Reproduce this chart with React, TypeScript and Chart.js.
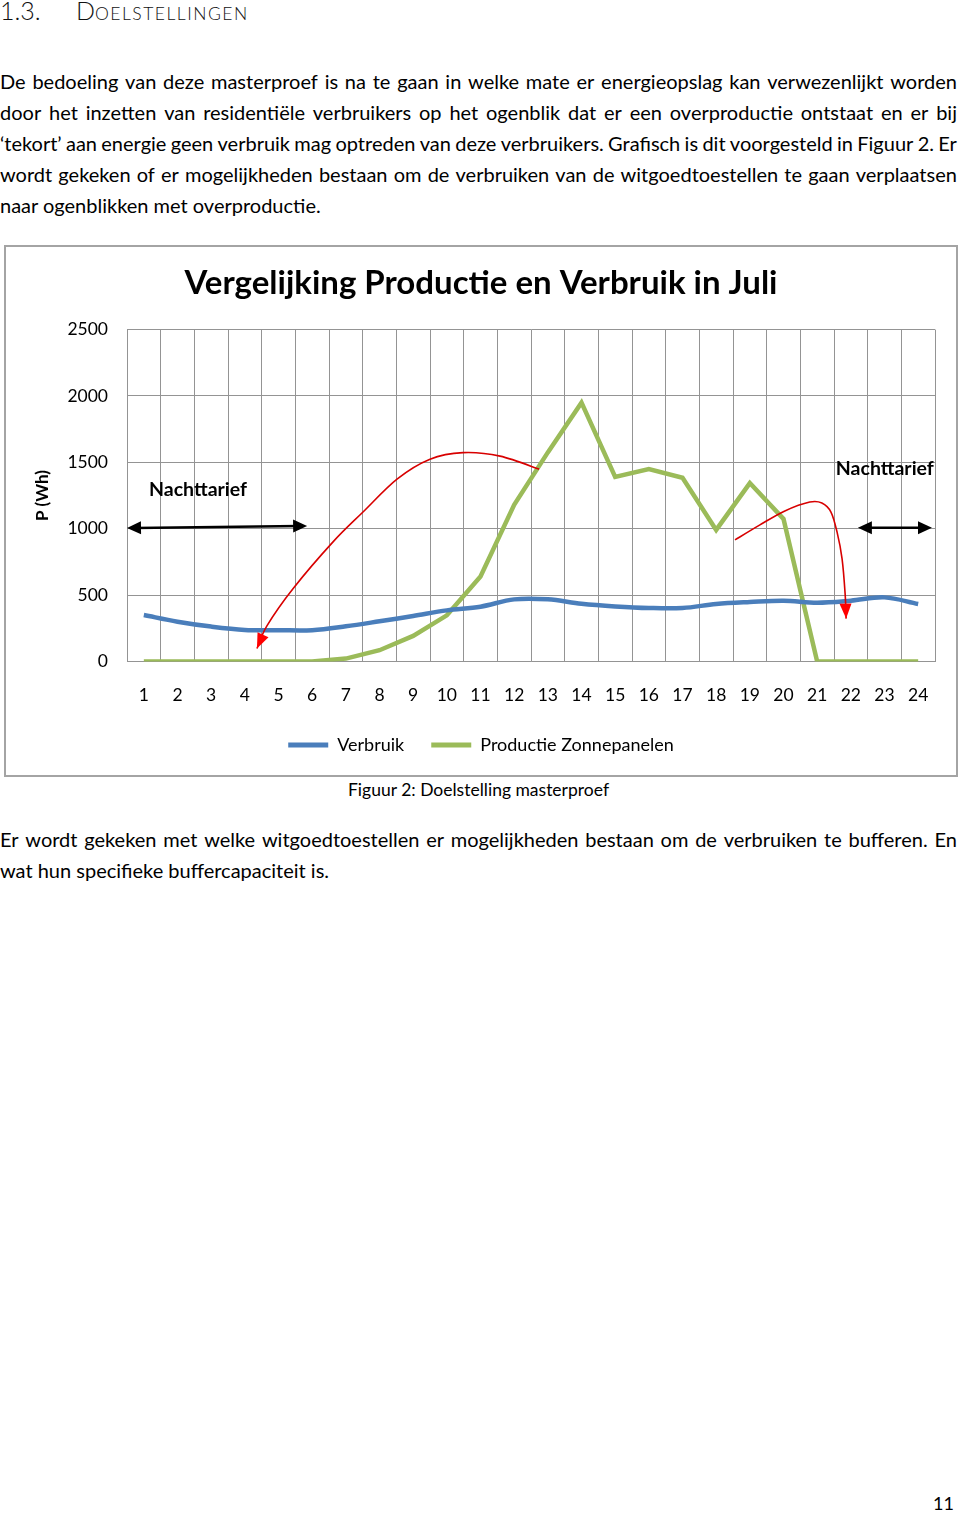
import React, { useEffect, useRef } from "react";
import { Chart, registerables } from "chart.js";

Chart.register(...registerables);

// ---- chart data ----
const hours = ["1", "2", "3", "4", "5", "6", "7", "8", "9", "10", "11", "12", "13", "14", "15", "16", "17", "18", "19", "20", "21", "22", "23", "24"];
const verbruik = [350, 300, 263, 238, 236, 236, 265, 303, 343, 385, 413, 468, 468, 435, 415, 403, 403, 433, 448, 458, 443, 458, 483, 433];
const productie = [0, 0, 0, 0, 0, 0, 22, 85, 193, 348, 640, 1180, 1575, 1950, 1391, 1449, 1384, 991, 1344, 1074, 0, 0, 0, 0];
const yTicks = [0, 500, 1000, 1500, 2000, 2500];

// ---- annotation coordinates in data space: [category index (0 = hour 1), Wh] ----
const shiftArrowDay = [[11.74, 1449], [10.58, 1547], [9.48, 1573], [8.5, 1524], [7.52, 1374], [6.51, 1126], [5.62, 901], [4.43, 548], [3.66, 270], [3.36, 98]];
const shiftArrowEvening = [[17.56, 916], [18.3, 1029], [19.04, 1134], [19.78, 1201], [20.14, 1194], [20.41, 1126], [20.59, 976], [20.74, 773], [20.83, 511], [20.86, 323]];
const nightArrowLeft = [[-0.5, 1006], [4.85, 1021]];
const nightArrowRight = [[21.21, 1008], [23.41, 1008]];
const nightLabels = [
  { text: "Nachttarief", at: [1.61, 1291] },
  { text: "Nachttarief", at: [22.01, 1449] },
];

// ---- page text ----
const para1 = [
  "De bedoeling van deze masterproef is na te gaan in welke mate er energieopslag kan verwezenlijkt worden",
  "door het inzetten van residentiële verbruikers op het ogenblik dat er een overproductie ontstaat en er bij",
  "‘tekort’ aan energie geen verbruik mag optreden van deze verbruikers. Grafisch is dit voorgesteld in Figuur 2. Er",
  "wordt gekeken of er mogelijkheden bestaan om de verbruiken van de witgoedtoestellen te gaan verplaatsen",
  "naar ogenblikken met overproductie.",
];
const para2 = [
  "Er wordt gekeken met welke witgoedtoestellen er mogelijkheden bestaan om de verbruiken te bufferen. En",
  "wat hun specifieke buffercapaciteit is.",
];

const FONT = "Lato";

function arrowHead(ctx: CanvasRenderingContext2D, from: number[], to: number[], len: number, half: number, color: string) {
  const a = Math.atan2(to[1] - from[1], to[0] - from[0]);
  ctx.save();
  ctx.fillStyle = color;
  ctx.beginPath();
  ctx.moveTo(to[0], to[1]);
  ctx.lineTo(to[0] - len * Math.cos(a) + half * Math.sin(a), to[1] - len * Math.sin(a) - half * Math.cos(a));
  ctx.lineTo(to[0] - len * Math.cos(a) - half * Math.sin(a), to[1] - len * Math.sin(a) + half * Math.cos(a));
  ctx.closePath();
  ctx.fill();
  ctx.restore();
}

const annotationPlugin = {
  id: "pageAnnotations",
  afterDatasetsDraw(chart: any) {
    const { ctx, scales } = chart;
    const xs = scales.x;
    const ys = scales.y;
    const px = (p: number[]) => [xs.getPixelForValue(p[0]), ys.getPixelForValue(p[1])];
    ctx.save();
    // red curved arrows
    for (const pts of [shiftArrowDay, shiftArrowEvening]) {
      const P = pts.map(px);
      ctx.strokeStyle = "#d80000";
      ctx.lineWidth = 1.6;
      ctx.beginPath();
      ctx.moveTo(P[0][0], P[0][1]);
      for (let i = 0; i < P.length - 1; i++) {
        const p0 = P[Math.max(i - 1, 0)];
        const p1 = P[i];
        const p2 = P[i + 1];
        const p3 = P[Math.min(i + 2, P.length - 1)];
        ctx.bezierCurveTo(
          p1[0] + (p2[0] - p0[0]) / 6, p1[1] + (p2[1] - p0[1]) / 6,
          p2[0] - (p3[0] - p1[0]) / 6, p2[1] - (p3[1] - p1[1]) / 6,
          p2[0], p2[1]
        );
      }
      ctx.stroke();
      arrowHead(ctx, P[P.length - 2], P[P.length - 1], 15, 6, "#ff0000");
    }
    // black double arrows
    for (const pts of [nightArrowLeft, nightArrowRight]) {
      const [a, b] = pts.map(px);
      ctx.strokeStyle = "#000";
      ctx.lineWidth = 2.5;
      ctx.beginPath();
      ctx.moveTo(a[0] + 8, a[1]);
      ctx.lineTo(b[0] - 8, b[1]);
      ctx.stroke();
      arrowHead(ctx, a, b, 14, 6.5, "#000");
      arrowHead(ctx, b, a, 14, 6.5, "#000");
    }
    // labels
    ctx.fillStyle = "#000";
    ctx.font = `bold 19.5px ${FONT}`;
    ctx.textAlign = "center";
    ctx.textBaseline = "middle";
    for (const l of nightLabels) {
      const p = px(l.at);
      ctx.fillText(l.text, p[0], p[1]);
    }
    ctx.restore();
  },
};

function JustifiedLine({ text }: { text: string }) {
  const words = text.split(" ");
  return (
    <div style={{ display: "flex", justifyContent: "space-between", width: 957, whiteSpace: "pre" }}>
      {words.map((w, i) => (
        <span key={i}>{w}</span>
      ))}
    </div>
  );
}

function Paragraph({ lines, top }: { lines: string[]; top: number }) {
  return (
    <div style={{ position: "absolute", left: 0, top, fontSize: 20, lineHeight: "31px", width: 957 }}>
      {lines.map((l, i) =>
        i < lines.length - 1 ? <JustifiedLine key={i} text={l} /> : <div key={i}>{l}</div>
      )}
    </div>
  );
}

export default function App() {
  const ref = useRef<HTMLCanvasElement>(null);

  useEffect(() => {
    if (!ref.current) return;
    Chart.defaults.font.family = FONT;
    Chart.defaults.color = "#000";
    const gridColor = "#949494";
    const chart = new Chart(ref.current, {
      type: "line",
      data: {
        labels: hours,
        datasets: [
          {
            label: "Verbruik",
            data: verbruik,
            borderColor: "#4a7ebb",
            backgroundColor: "#4a7ebb",
            borderWidth: 4.5,
            pointRadius: 0,
            tension: 0.35,
          },
          {
            label: "Productie Zonnepanelen",
            data: productie,
            borderColor: "#9bbb59",
            backgroundColor: "#9bbb59",
            borderWidth: 4.5,
            pointRadius: 0,
            tension: 0,
          },
        ],
      },
      options: {
        animation: false,
        responsive: false,
        devicePixelRatio: 1,
        layout: { padding: { left: 0, right: 0, top: 0, bottom: 11 } },
        plugins: {
          title: {
            display: true,
            text: "Vergelijking Productie en Verbruik in Juli",
            color: "#000",
            font: { family: FONT, size: 33, weight: "bold" },
            padding: { top: 17, bottom: 26 },
          },
          legend: {
            position: "bottom",
            labels: {
              boxWidth: 40,
              boxHeight: 5,
              padding: 27,
              color: "#000",
              font: { size: 18 },
              generateLabels: (c: any) => {
                const items = (Chart.defaults.plugins.legend.labels as any).generateLabels(c);
                return items.map((it: any) => ({ ...it, lineWidth: 0, fillStyle: it.strokeStyle }));
              },
            },
          },
          tooltip: { enabled: false },
        },
        scales: {
          x: {
            offset: true,
            grid: { offset: true, color: gridColor, lineWidth: 1, drawTicks: false },
            border: { color: gridColor },
            ticks: { padding: 23, font: { size: 17.5 }, color: "#000", autoSkip: false, maxRotation: 0 },
            afterFit: (s: any) => {
              s.height = 47.5;
            },
          },
          y: {
            min: 0,
            max: 2500,
            afterBuildTicks: (s: any) => {
              s.ticks = yTicks.map((v) => ({ value: v }));
            },
            grid: { color: gridColor, lineWidth: 1, drawTicks: false },
            border: { color: gridColor },
            ticks: { padding: 19, font: { size: 17.5 }, color: "#000", callback: (v: any) => String(v) },
            title: {
              display: true,
              text: "P (Wh)",
              color: "#000",
              font: { size: 17, weight: "bold" },
              padding: { top: 26, bottom: 0 },
            },
            afterFit: (s: any) => {
              s.width = 121;
            },
          },
          yRight: {
            type: "linear",
            position: "right",
            display: true,
            grid: { display: false },
            border: { display: false },
            ticks: { display: false },
            afterFit: (s: any) => {
              s.width = 21;
            },
          },
        },
      } as any,
      plugins: [annotationPlugin],
    });
    return () => chart.destroy();
  }, []);

  return (
    <div style={{ position: "absolute", left: 0, top: 0, width: 960, height: 1515, fontFamily: FONT, color: "#000", background: "#fff" }}>
      <div style={{ position: "absolute", left: 0, top: -5, fontSize: 25, lineHeight: "30px", fontWeight: 300, color: "#111", whiteSpace: "nowrap" }}>
        1.3.
        <span style={{ position: "absolute", left: 76 }}>
          D<span style={{ fontSize: 17.5, letterSpacing: 1.5 }}>OELSTELLINGEN</span>
        </span>
      </div>
      <Paragraph lines={para1} top={66} />
      <div style={{ position: "absolute", left: 4, top: 245, width: 950, height: 528, border: "2px solid #a4a4a4" }}>
        <canvas ref={ref} width={950} height={528} style={{ display: "block" }} />
      </div>
      <div style={{ position: "absolute", left: 0, top: 780, width: 957, textAlign: "center", fontSize: 17.5, lineHeight: "20px" }}>
        Figuur 2: Doelstelling masterproef
      </div>
      <Paragraph lines={para2} top={824} />
      <div style={{ position: "absolute", left: 0, top: 1493, width: 954, textAlign: "right", fontSize: 18, lineHeight: "20px" }}>
        11
      </div>
    </div>
  );
}
